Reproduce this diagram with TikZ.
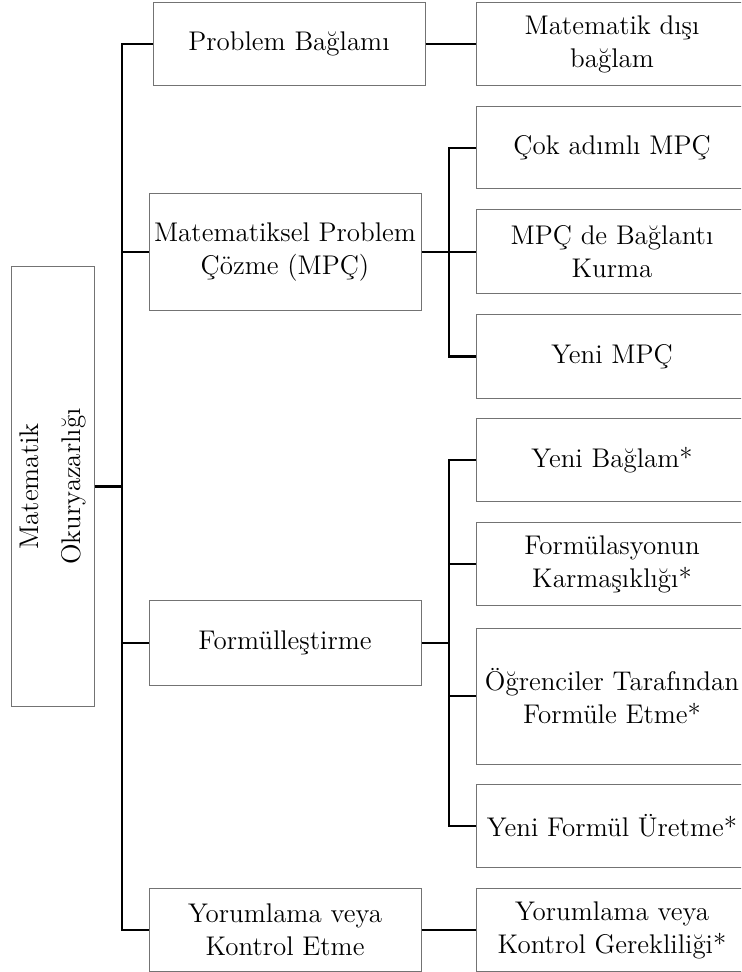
\documentclass[tikz,border=0pt]{standalone}
\usepackage{tikz}
\tikzset{
    every node/.style={font=\fontsize{13.5}{16.5}\selectfont, align=center}
}
\tikzset{
    kutu/.style={draw=black!55, line width=0.5pt, inner sep=0pt,
    	minimum width=136pt}
}
\tikzset{
    every edge/.append style={line width=1.2pt}
}

\begin{document}
\begin{tikzpicture}[x=0.5pt, y=-0.5pt, line width=1.2pt, line join=miter]
	\useasboundingbox (0,0) rectangle (741,972);
	\clip (0,0) rectangle (741,972);
	% kok
	\node (root) [kutu, minimum width=41.5pt, minimum height=219.5pt] at (52.5,486.5) {};
	\node (rootlbl) [rotate=90, font=\fontsize{13.5}{21}\selectfont] at (root.center) {Matematik\\Okuryazarlığı};
	% birinci duzey
	\node (pb) [kutu, minimum height=41.5pt] at (289,44) {Problem Bağlamı};
	\node (mpc) [kutu, minimum height=58.5pt] at (285,252) {Matematiksel Problem\\Çözme (MPÇ)};
	\node (form) [kutu, minimum height=42.5pt] at (285,643) {Formülleştirme};
	\node (yor) [kutu, minimum height=41.5pt] at (285,930) {Yorumlama veya\\Kontrol Etme};
	% ikinci duzey
	\node (mdb) [kutu, minimum height=41.5pt] at (612,44) {Matematik dışı\\bağlam};
	\node (cok) [kutu, minimum height=41pt] at (612,148) {Çok adımlı MPÇ};
	\node (bag) [kutu, minimum height=42pt] at (612,252) {MPÇ de Bağlantı\\Kurma};
	\node (yeni) [kutu, minimum height=41.5pt] at (612,356.5) {Yeni MPÇ};
	\node (yb) [kutu, minimum height=41.5pt] at (612,460) {Yeni Bağlam*};
	\node (fk) [kutu, minimum height=41.5pt] at (612,564) {Formülasyonun\\Karmaşıklığı*};
	\node (ogr) [kutu, minimum height=68pt] at (612,696) {Öğrenciler Tarafından\\Formüle Etme*};
	\node (yfu) [kutu, minimum height=41.5pt] at (612,826) {Yeni Formül Üretme*};
	\node (ykg) [kutu, minimum height=41.5pt] at (612,930) {Yorumlama veya\\Kontrol Gerekliliği*};

	\coordinate (tr) at (122,0);
	\coordinate (br) at (449,0);

	\draw (pb.west) -| (tr |- yor.west) -- (yor.west);
	\draw (mpc.west) edge (tr |- mpc.west);
	\draw (form.west) edge (tr |- form.west);
	\draw (root.east) edge (tr |- root.east);
	\draw (pb.east) edge (mdb.west);
	\draw (yor.east) edge (ykg.west);

	\draw (cok.west) -| (br |- yeni.west) -- (yeni.west);
	\draw (mpc.east) edge (bag.west);
	\draw (yb.west) -| (br |- yfu.west) -- (yfu.west);
	\draw (fk.west) edge (br |- fk.west);
	\draw (ogr.west) edge (br |- ogr.west);
	\draw (form.east) edge (br |- form.east);
\end{tikzpicture}
\end{document}
